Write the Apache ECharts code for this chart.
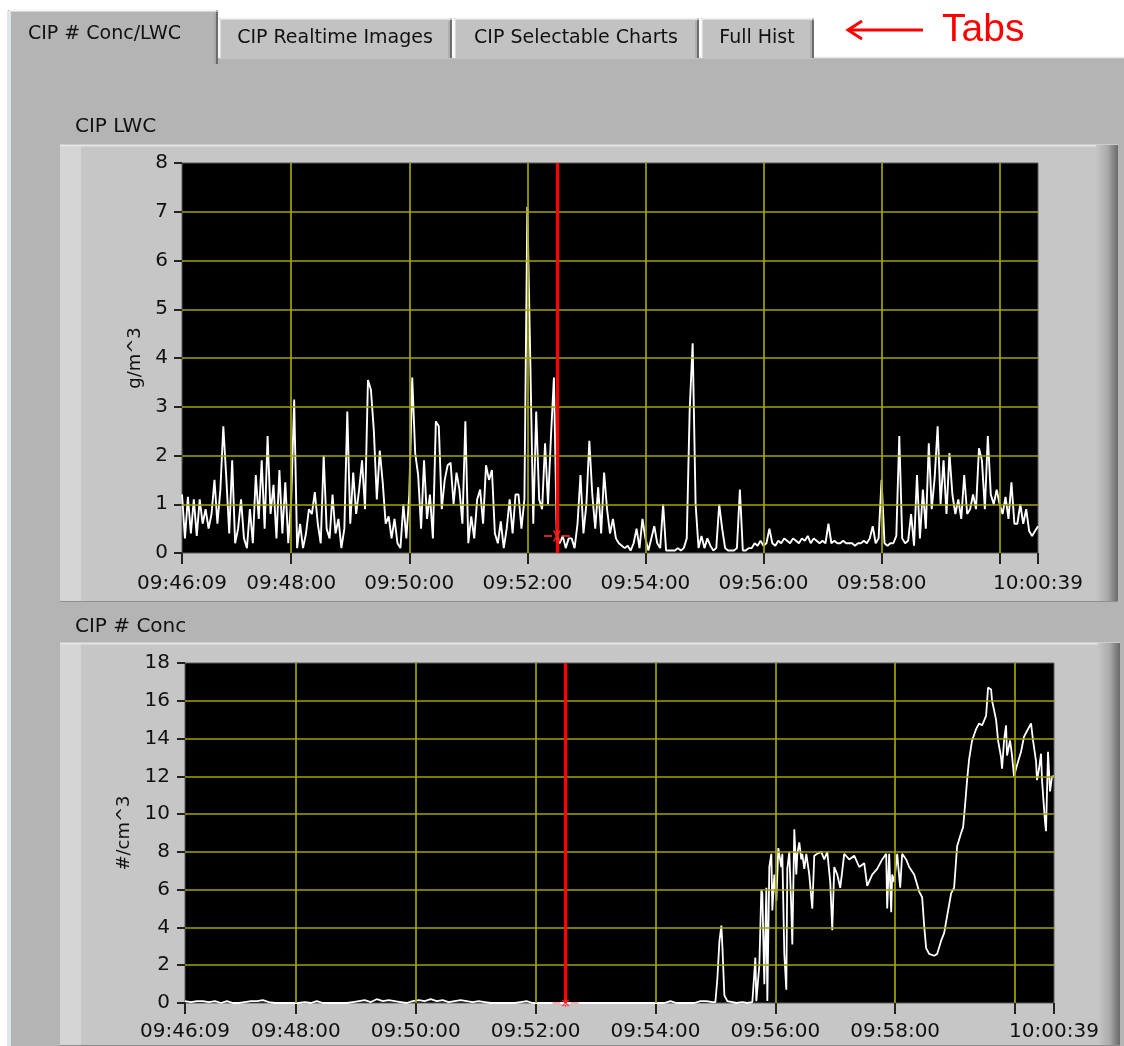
<!DOCTYPE html>
<html>
<head>
<meta charset="utf-8">
<script src="https://cdn.jsdelivr.net/npm/echarts@6/dist/echarts.min.js"></script>
<style>
html,body{margin:0;padding:0;background:#ffffff;}
#c{width:1124px;height:1046px;}
</style>
</head>
<body>
<div id="c"></div>
<script>
// ---------- DATA ----------
// x values are seconds after the axis start time 09:46:09 (axis ends at 10:00:39)
const axisStartClock = [9, 46, 9];
const xTickSeconds  = [0, 111, 231, 351, 471, 591, 711, 831, 870];
const xLabelSeconds = [0, 111, 231, 351, 471, 591, 711, 870];
const xGridSeconds  = [111, 231, 351, 471, 591, 711, 831];
const cursorSecond = 381;            // 09:52:30
const cursorLwcValue = 0.35;
const cursorConcValue = 0;

const lwcTickValues  = [0, 1, 2, 3, 4, 5, 6, 7, 8];
const concTickValues = [0, 2, 4, 6, 8, 10, 12, 14, 16, 18];

const tabNames = ['CIP # Conc/LWC', 'CIP Realtime Images', 'CIP Selectable Charts', 'Full Hist'];
const chartTitles = ['CIP LWC', 'CIP # Conc'];
const axisNames = ['g/m^3', '#/cm^3'];

// CIP LWC (g/m^3), one reading every 3 s from 09:46:09
const lwcSampleStep = 3;
const lwcValues = [
  1.2,0.3,1.15,0.4,1.1,0.35,1.1,0.6,0.9,0.5,
  0.8,1.5,0.6,1.3,2.6,1.55,0.4,1.9,0.2,0.5,
  1.1,0.3,0.1,0.9,0.2,1.6,0.7,1.9,0.5,2.4,
  0.8,1.4,0.3,1.7,0.4,1.45,0.2,1.1,3.15,0.1,
  0.6,0.1,0.4,0.9,0.8,1.25,0.6,0.2,2.0,0.5,
  0.3,1.2,0.4,0.7,0.1,0.5,2.9,0.6,1.65,0.8,
  1.3,1.9,0.9,3.55,3.35,2.5,1.1,2.1,1.45,0.6,
  0.75,0.3,0.7,0.2,0.1,1.0,0.3,1.2,3.6,2.05,
  1.6,0.5,1.9,0.7,1.2,0.3,2.7,2.6,0.9,1.5,
  1.8,1.85,1.0,1.65,1.3,0.6,2.7,0.2,0.75,0.3,
  1.1,1.3,0.6,1.8,1.5,1.7,0.4,0.2,0.65,0.1,
  0.5,1.1,0.4,1.2,1.2,0.5,1.1,7.1,3.95,0.6,
  2.9,1.1,0.9,2.25,1.0,2.4,3.6,0.3,0.2,0.35,
  0.1,0.3,0.3,0.1,0.6,1.6,0.4,1.0,2.3,1.2,
  0.5,1.35,0.4,1.65,0.9,0.4,0.7,0.3,0.2,0.15,
  0.1,0.15,0.05,0.2,0.5,0.1,0.7,0.3,0.05,0.3,
  0.55,0.2,0.1,1.0,0.05,0.05,0.05,0.05,0.1,0.05,
  0.1,0.3,2.95,4.3,1.0,0.1,0.35,0.1,0.3,0.15,
  0.05,0.1,1.0,0.5,0.1,0.05,0.05,0.05,0.1,1.3,
  0.05,0.05,0.1,0.1,0.2,0.15,0.25,0.15,0.2,0.5,
  0.2,0.15,0.25,0.2,0.3,0.25,0.2,0.3,0.25,0.2,
  0.3,0.25,0.35,0.2,0.3,0.25,0.2,0.25,0.2,0.6,
  0.2,0.25,0.2,0.2,0.25,0.2,0.2,0.2,0.15,0.2,
  0.2,0.25,0.2,0.3,0.55,0.2,0.3,1.5,0.2,0.15,
  0.2,0.2,0.35,2.4,0.3,0.2,0.25,0.8,0.15,1.6,
  0.3,1.3,0.5,2.25,0.9,1.55,2.6,1.0,1.9,0.8,
  2.05,1.2,0.8,1.1,0.7,1.6,0.8,0.9,1.2,0.9,
  2.15,1.9,0.9,2.4,1.2,1.0,1.3,1.0,0.8,1.15,
  0.7,1.45,0.6,0.6,1.0,0.6,0.9,0.45,0.35,0.45,0.55
];

// CIP # Conc (#/cm^3): reading times (s after 09:46:09) and values
const concTimes = [
  0,6,12,18,24,30,36,42,48,54,
  60,66,72,78,84,90,96,102,108,114,
  120,126,132,138,144,150,156,162,168,174,
  180,186,192,198,204,210,216,222,228,234,
  240,246,252,258,264,270,276,282,288,294,
  300,306,312,318,324,330,336,342,348,354,
  360,366,372,378,384,390,396,402,408,414,
  420,426,432,438,444,450,456,462,468,474,
  480,486,492,498,504,510,516,522,528,
  531,533,535,537,538,540,543,548,552,558,563,568,
  570,571,572,575,577,578,580,582,583,585,587,588,590,592,594,597,598,
  600,602,603,605,607,608,610,612,613,615,617,618,620,622,625,628,630,633,637,
  640,643,646,648,650,653,656,660,665,670,675,680,683,688,693,698,
  702,703,705,707,708,710,713,716,718,722,725,730,735,738,740,742,745,750,753,757,
  760,763,767,770,773,777,779,781,783,785,788,792,795,798,
  802,804,807,808,812,814,817,818,820,822,823,826,828,830,833,837,
  840,843,847,849,852,853,855,857,858,861,862,864,866,868,870
];
const concValues = [
  0.1,0.05,0.1,0.1,0.05,0.1,0,0.1,0,0,
  0.05,0.1,0.1,0.15,0.05,0,0,0,0,0,
  0.05,0,0.1,0,0,0,0,0,0.05,0.1,
  0.15,0.05,0.2,0.1,0.15,0.1,0.05,0,0.1,0.15,
  0.1,0.2,0.1,0.15,0.05,0.1,0.15,0.1,0.05,0.1,
  0.05,0,0,0,0,0,0.05,0.1,0,0,
  0,0,0,0,0,0,0,0,0,0,
  0,0,0,0,0,0,0,0,0,0,
  0,0.1,0,0,0,0,0.1,0.1,0.05,
  0.05,1.3,3.25,4.1,3.0,0.4,0.1,0.05,0,0.05,0,0.05,
  1.6,2.4,0.1,2.0,6.0,5.8,1.0,6.1,0.1,7.2,7.9,4.9,6.8,5.4,8.2,7.2,7.9,
  2.6,0.7,7.1,8.0,5.0,3.1,9.2,6.8,7.9,8.5,7.6,7.9,7.1,7.9,6.8,5.0,7.8,7.9,8.0,
  7.6,8.0,6.4,3.85,7.2,6.8,6.1,7.9,7.6,7.8,7.2,7.4,6.2,6.8,7.1,7.6,
  7.9,5.0,7.9,4.8,6.8,6.4,7.9,6.1,7.9,7.6,7.2,6.8,5.9,5.6,4.1,2.9,2.6,2.5,2.6,3.3,
  3.7,4.6,5.8,6.1,8.3,9.0,9.3,10.5,11.8,12.9,13.9,14.5,14.8,14.7,
  15.2,16.7,16.6,16.0,15.0,13.9,13.0,12.4,13.9,14.7,13.1,13.9,13.1,12.0,12.6,13.3,
  14.1,14.4,14.8,13.9,12.8,11.8,12.4,13.2,11.8,9.6,9.1,13.3,11.2,12.0,12.0
];

// ---------- CHART ----------
const axisStartSec = axisStartClock[0] * 3600 + axisStartClock[1] * 60 + axisStartClock[2];
function clock(v) {
  const s = axisStartSec + Math.round(v);
  const h = Math.floor(s / 3600), m = Math.floor((s % 3600) / 60), ss = s % 60;
  return [h, m, ss].map(x => String(x).padStart(2, '0')).join(':');
}
const lwcData = lwcValues.map((v, i) => [i * lwcSampleStep, v]);
const concData = concTimes.map((t, i) => [t, concValues[i]]);

const FONT = 'DejaVu Sans';
const TXT = '#111111';
const GRIDC = '#a3a300';
const PAGE = '#b4b4b4';
const PANEL = '#c6c6c6';

const cursorPath = 'path://M0 6H8V8H0Z M18 6H26V8H18Z M9 2L10.4 1L17 12L15.6 13Z M17 2L15.6 1L9 12L10.4 13Z M12.3 0H13.7V14H12.3Z';

function xAxisFor(gi, margin) {
  return {
    type: 'value', gridIndex: gi,
    min: xTickSeconds[0], max: xTickSeconds[xTickSeconds.length - 1],
    axisLine: { show: false },
    axisTick: { show: true, customValues: xTickSeconds, length: 11, lineStyle: { color: '#222', width: 2 } },
    axisLabel: { customValues: xLabelSeconds, formatter: clock, margin: margin,
      fontFamily: FONT, fontSize: 20, color: TXT, hideOverlap: false },
    splitLine: { show: false }
  };
}
function yAxisFor(gi, ticks, name, nameGap, margin) {
  return {
    type: 'value', gridIndex: gi,
    min: ticks[0], max: ticks[ticks.length - 1], interval: ticks[1] - ticks[0],
    name: name, nameLocation: 'middle', nameGap: nameGap,
    nameTextStyle: { fontFamily: FONT, fontSize: 18, color: TXT },
    axisLine: { show: false },
    axisTick: { show: true, length: 8, lineStyle: { color: '#222', width: 2 } },
    axisLabel: { margin: margin, fontFamily: FONT, fontSize: 20, color: TXT },
    splitLine: { show: false }
  };
}
function gridLines(gi, ticks) {
  const inner = ticks.slice(1, ticks.length - 1);
  return {
    type: 'line', xAxisIndex: gi, yAxisIndex: gi, data: [], z: 1, silent: true,
    markLine: {
      silent: true, symbol: 'none', animation: false,
      label: { show: false },
      lineStyle: { color: GRIDC, width: 1.7, type: 'solid' },
      emphasis: { disabled: true },
      data: xGridSeconds.map(v => ({ xAxis: v })).concat(inner.map(v => ({ yAxis: v })))
    }
  };
}
function cursorLine(gi) {
  return {
    type: 'line', xAxisIndex: gi, yAxisIndex: gi, data: [], z: 4, silent: true,
    markLine: {
      silent: true, symbol: 'none', animation: false,
      label: { show: false },
      lineStyle: { color: '#ff0000', width: 3.2, type: 'solid' },
      emphasis: { disabled: true },
      data: [{ xAxis: cursorSecond }]
    }
  };
}

function tab(x, y, w, h, active) {
  return [
    { type: 'rect', shape: { x: x, y: y, width: w, height: h }, style: { fill: active ? PAGE : '#c2c2c2' }, z: -8, silent: true },
    { type: 'line', shape: { x1: x + 1, y1: y + 0.5, x2: x + w - 2, y2: y + 0.5 }, style: { stroke: '#f4f4f4', lineWidth: 2 }, z: -7, silent: true },
    { type: 'line', shape: { x1: x + 0.5, y1: y + 1, x2: x + 0.5, y2: y + h }, style: { stroke: '#f4f4f4', lineWidth: 2 }, z: -7, silent: true },
    { type: 'line', shape: { x1: x + w - 1, y1: y + 2, x2: x + w - 1, y2: y + h }, style: { stroke: '#6c6c6c', lineWidth: 2 }, z: -7, silent: true },
    { type: 'line', shape: { x1: x + w - 3, y1: y + 3, x2: x + w - 3, y2: y + h }, style: { stroke: '#9a9a9a', lineWidth: 1 }, z: -7, silent: true }
  ];
}
function panel(x, y, w, h) {
  return [
    { type: 'rect', shape: { x: x, y: y, width: w, height: h }, style: { fill: PANEL }, z: -6, silent: true },
    { type: 'rect', shape: { x: x, y: y, width: 21, height: h }, style: { fill: '#d5d5d5' }, z: -5, silent: true },
    { type: 'line', shape: { x1: x, y1: y + 0.5, x2: x + w, y2: y + 0.5 }, style: { stroke: '#e4e4e4', lineWidth: 2 }, z: -5, silent: true },
    { type: 'rect', shape: { x: x + w - 22, y: y, width: 22, height: h },
      style: { fill: new echarts.graphic.LinearGradient(0, 0, 1, 0, [
        { offset: 0, color: PANEL }, { offset: 0.55, color: '#a9a9a9' }, { offset: 0.75, color: '#8a8a8a' }, { offset: 1, color: '#6a6a6a' }]) },
      z: -5, silent: true },
    { type: 'line', shape: { x1: x, y1: y + h - 0.5, x2: x + w, y2: y + h - 0.5 }, style: { stroke: '#8e8e8e', lineWidth: 1 }, z: -5, silent: true }
  ];
}
function label(text, x, y, size, align) {
  return { type: 'text', x: x, y: y, silent: true, z: -3,
    style: { text: text, fill: TXT, fontFamily: FONT, fontSize: size, align: align || 'left', verticalAlign: 'middle' } };
}

const graphics = [].concat(
  [{ type: 'rect', shape: { x: 8, y: 57, width: 1116, height: 989 }, style: { fill: PAGE }, z: -10, silent: true },
   { type: 'line', shape: { x1: 216, y1: 57.5, x2: 1124, y2: 57.5 }, style: { stroke: '#e8e8e8', lineWidth: 1.5 }, z: -9, silent: true }],
  tab(219, 18, 233, 40, false),
  tab(454, 18, 245, 40, false),
  tab(701, 18, 113, 40, false),
  tab(8, 10, 210, 54, true),
  [{ type: 'rect', shape: { x: 7, y: 11, width: 4, height: 1035 }, style: { fill: '#e2e6ec' }, z: -7, silent: true }],
  panel(60, 145, 1058, 457),
  panel(60, 643, 1060, 403),
  [
    label(tabNames[0], 28, 34, 19),
    label(tabNames[1], 335, 38, 19, 'center'),
    label(tabNames[2], 576, 38, 19, 'center'),
    label(tabNames[3], 757, 38, 19, 'center'),
    label(chartTitles[0], 75, 127, 20),
    label(chartTitles[1], 75, 627, 20),
    { type: 'text', x: 942, y: 30, silent: true, z: 5,
      style: { text: 'Tabs', fill: '#ff0000', fontFamily: 'Liberation Sans', fontSize: 39, align: 'left', verticalAlign: 'middle' } },
    { type: 'line', shape: { x1: 850, y1: 30, x2: 923, y2: 30 }, style: { stroke: '#ff0000', lineWidth: 3 }, z: 5, silent: true },
    { type: 'polyline', shape: { points: [[862, 21], [848, 30], [862, 39]] }, style: { stroke: '#ff0000', lineWidth: 3, fill: null }, z: 5, silent: true }
  ]
);

const option = {
  animation: false,
  backgroundColor: '#ffffff',
  graphic: graphics,
  grid: [
    { left: 182, top: 163, width: 856, height: 390, show: true, backgroundColor: '#000000', borderColor: '#5c5c5c', borderWidth: 1, outerBoundsMode: 'none', containLabel: false },
    { left: 185, top: 663, width: 869, height: 340, show: true, backgroundColor: '#000000', borderColor: '#5c5c5c', borderWidth: 1, outerBoundsMode: 'none', containLabel: false }
  ],
  xAxis: [xAxisFor(0, 21), xAxisFor(1, 19)],
  yAxis: [
    yAxisFor(0, lwcTickValues, axisNames[0], 38, 14),
    yAxisFor(1, concTickValues, axisNames[1], 52, 15)
  ],
  series: [
    gridLines(0, lwcTickValues),
    gridLines(1, concTickValues),
    { type: 'line', name: 'CIP LWC', xAxisIndex: 0, yAxisIndex: 0, data: lwcData, z: 3,
      showSymbol: false, symbol: 'none', lineStyle: { color: '#ffffff', width: 1.9 }, silent: true },
    { type: 'line', name: 'CIP # Conc', xAxisIndex: 1, yAxisIndex: 1, data: concData, z: 3,
      showSymbol: false, symbol: 'none', lineStyle: { color: '#ffffff', width: 1.8 }, silent: true },
    cursorLine(0),
    cursorLine(1),
    { type: 'scatter', xAxisIndex: 0, yAxisIndex: 0, data: [[cursorSecond, cursorLwcValue]], z: 5,
      symbol: cursorPath, symbolSize: [26, 14], itemStyle: { color: '#ff2a2a' }, silent: true },
    { type: 'scatter', xAxisIndex: 1, yAxisIndex: 1, data: [[cursorSecond, cursorConcValue]], z: 5,
      symbol: cursorPath, symbolSize: [26, 8], itemStyle: { color: '#ff2a2a' }, silent: true, clip: false }
  ]
};

const chart = echarts.init(document.getElementById('c'), null, { renderer: 'canvas', width: 1124, height: 1046 });
chart.setOption(option);
</script>
</body>
</html>
